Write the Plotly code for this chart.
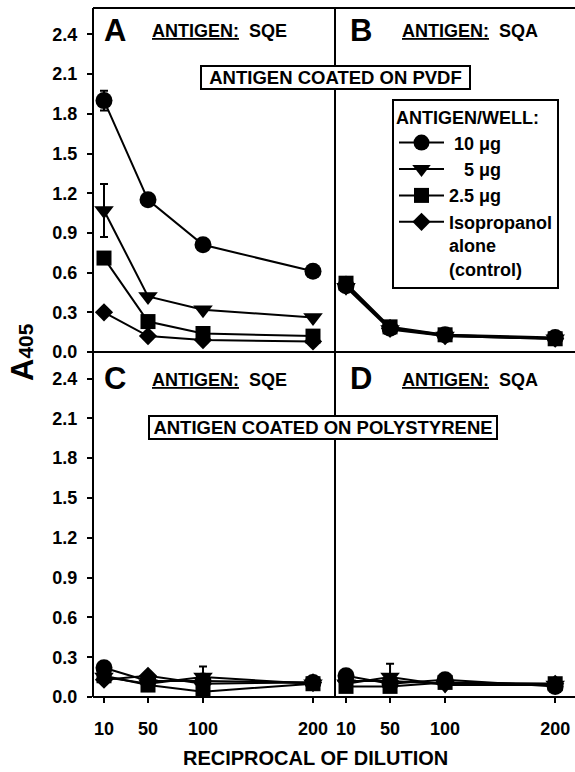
import plotly.graph_objects as go

# ---------------- data ----------------
dilution = [10, 50, 100, 200]
tick_vals_y = [0.0, 0.3, 0.6, 0.9, 1.2, 1.5, 1.8, 2.1, 2.4]

series_names = ["\u00a010 \u03bcg", "\u00a0\u00a0\u00a05 \u03bcg", "2.5 \u03bcg",
                "Isopropanol<br>alone<br>(control)"]
symbols = ["circle", "triangle-down", "square", "diamond"]
marker_sizes = [17, 17, 15, 14]

# Panel A: antigen SQE coated on PVDF
a_10 = [1.90, 1.15, 0.81, 0.61]
a_5 = [1.07, 0.42, 0.32, 0.26]
a_25 = [0.71, 0.23, 0.14, 0.12]
a_iso = [0.30, 0.12, 0.09, 0.08]
a_10_err = [0.075, None, None, None]
a_5_err = [0.20, None, None, None]

# Panel B: antigen SQA coated on PVDF
b_10 = [0.50, 0.18, 0.13, 0.11]
b_5 = [0.49, 0.17, 0.12, 0.10]
b_25 = [0.52, 0.19, 0.13, 0.10]
b_iso = [0.51, 0.18, 0.12, 0.10]

# Panel C: antigen SQE coated on polystyrene
c_10 = [0.22, 0.12, 0.12, 0.11]
c_5 = [0.15, 0.10, 0.15, 0.10]
c_25 = [0.16, 0.09, 0.04, 0.10]
c_iso = [0.13, 0.16, 0.10, 0.11]
c_5_err = [None, None, 0.08, None]

# Panel D: antigen SQA coated on polystyrene
d_10 = [0.16, 0.10, 0.13, 0.08]
d_5 = [0.10, 0.15, 0.09, 0.09]
d_25 = [0.08, 0.08, 0.11, 0.10]
d_iso = [0.12, 0.12, 0.10, 0.10]
d_5_err = [None, 0.10, None, None]

panels = [
    ("x", "y", [a_10, a_5, a_25, a_iso], [a_10_err, a_5_err, None, None], True),
    ("x2", "y2", [b_10, b_5, b_25, b_iso], [None, None, None, None], False),
    ("x3", "y3", [c_10, c_5, c_25, c_iso], [None, c_5_err, None, None], False),
    ("x4", "y4", [d_10, d_5, d_25, d_iso], [None, d_5_err, None, None], False),
]

FONT = "Liberation Sans, Arial, Helvetica, sans-serif"

# ---------------- layout geometry ----------------
W, H = 575, 772
ML, MR, MT, MB = 93, 0, 8, 75
PW = W - ML - MR
PH = H - MT - MB
XD = 242 / PW           # vertical divider
YD = 345 / PH           # horizontal divider


def px(x):
    return (x - ML) / PW


def py(y):
    return (H - MB - y) / PH


fig = go.Figure()

for xa, ya, series, errs, show in panels:
    for i, vals in enumerate(series):
        err = errs[i]
        fig.add_trace(go.Scatter(
            x=dilution, y=vals, xaxis=xa, yaxis=ya,
            mode="lines+markers",
            name=series_names[i],
            showlegend=show,
            line=dict(color="black", width=2),
            marker=dict(symbol=symbols[i], size=marker_sizes[i], color="black",
                        line=dict(width=0)),
            error_y=(dict(type="data", array=err, visible=True, color="black",
                          thickness=2, width=4) if err is not None else None),
        ))

axis_common = dict(showgrid=False, zeroline=False, showline=False)
ytick = dict(tickmode="array", tickvals=tick_vals_y, tickformat=".1f",
             ticks="outside", ticklen=5, tickwidth=2, tickcolor="black",
             ticklabelstandoff=6, tickfont=dict(size=18))
xtick = dict(tickmode="array", tickvals=dilution, ticks="outside", ticklen=5,
             tickwidth=2, tickcolor="black", ticklabelstandoff=10,
             tickfont=dict(size=18))

fig.update_layout(
    width=W, height=H,
    margin=dict(l=ML, r=MR, t=MT, b=MB, pad=0),
    paper_bgcolor="white", plot_bgcolor="white",
    font=dict(family=FONT, size=18, color="black", weight="bold"),
    xaxis=dict(domain=[0, XD], range=[0, 220], anchor="y", showticklabels=False,
               ticks="", **axis_common),
    xaxis2=dict(domain=[XD, 1], range=[0, 218], anchor="y2", showticklabels=False,
                ticks="", **axis_common),
    xaxis3=dict(domain=[0, XD], range=[0, 220], anchor="y3", **xtick, **axis_common),
    xaxis4=dict(domain=[XD, 1], range=[0, 218], anchor="y4", **xtick, **axis_common),
    yaxis=dict(domain=[YD, 1], range=[0, 2.6], anchor="x", **ytick, **axis_common),
    yaxis2=dict(domain=[YD, 1], range=[0, 2.6], anchor="x2", showticklabels=False,
                ticks="", **axis_common),
    yaxis3=dict(domain=[0, YD], range=[0, 2.6], anchor="x3", **ytick, **axis_common),
    yaxis4=dict(domain=[0, YD], range=[0, 2.6], anchor="x4", showticklabels=False,
                ticks="", **axis_common),
    legend=dict(x=px(392), y=py(99), xanchor="left", yanchor="top",
                bordercolor="black", borderwidth=2, bgcolor="white",
                font=dict(family=FONT, size=18, color="black", weight="bold"),
                title=dict(text="ANTIGEN/WELL:",
                           font=dict(family=FONT, size=18, color="black", weight="bold")),
                itemwidth=45, valign="top", tracegroupgap=0),
)

line = dict(color="black", width=2)
shapes = [
    dict(type="line", xref="paper", yref="paper", x0=0, x1=1, y0=1, y1=1, line=line),
    dict(type="line", xref="paper", yref="paper", x0=0, x1=1, y0=YD, y1=YD, line=line),
    dict(type="line", xref="paper", yref="paper", x0=0, x1=1, y0=0, y1=0, line=line),
    dict(type="line", xref="paper", yref="paper", x0=0, x1=0, y0=0, y1=1, line=line),
    dict(type="line", xref="paper", yref="paper", x0=XD, x1=XD, y0=0, y1=1, line=line),
]
fig.update_layout(shapes=shapes)

ann = []


def add_text(text, x, y, size, xanchor="center", **kw):
    ann.append(dict(text=text, x=px(x), y=py(y), xref="paper", yref="paper",
                    xanchor=xanchor, yanchor="middle", showarrow=False,
                    font=dict(family=FONT, size=size, color="black", weight="bold"),
                    **kw))


panel_letters = [("A", 115, 31), ("B", 361, 31), ("C", 115, 378), ("D", 361, 378)]
for letter, x, y in panel_letters:
    add_text(letter, x, y, 31)

antigen_labels = [("<u>ANTIGEN:</u>\u00a0\u00a0SQE", 150, 31),
                  ("<u>ANTIGEN:</u>\u00a0\u00a0SQA", 400, 31),
                  ("<u>ANTIGEN:</u>\u00a0\u00a0SQE", 150, 380),
                  ("<u>ANTIGEN:</u>\u00a0\u00a0SQA", 400, 380)]
for t, x, y in antigen_labels:
    add_text(t, x, y, 18, xanchor="left")

add_text("ANTIGEN COATED ON PVDF", 335.5, 77.5, 18.5, bordercolor="black",
         borderwidth=2, borderpad=0, bgcolor="white", width=267, height=21)
add_text("ANTIGEN COATED ON POLYSTYRENE", 323, 428, 18.5, bordercolor="black",
         borderwidth=2, borderpad=0, bgcolor="white", width=346, height=21)

add_text("A<span style='font-size:21px'>405</span>", 22, 352, 31, textangle=-90)
add_text("RECIPROCAL OF DILUTION", 315, 758, 20)

fig.update_layout(annotations=ann)

fig.write_html("out.html")
